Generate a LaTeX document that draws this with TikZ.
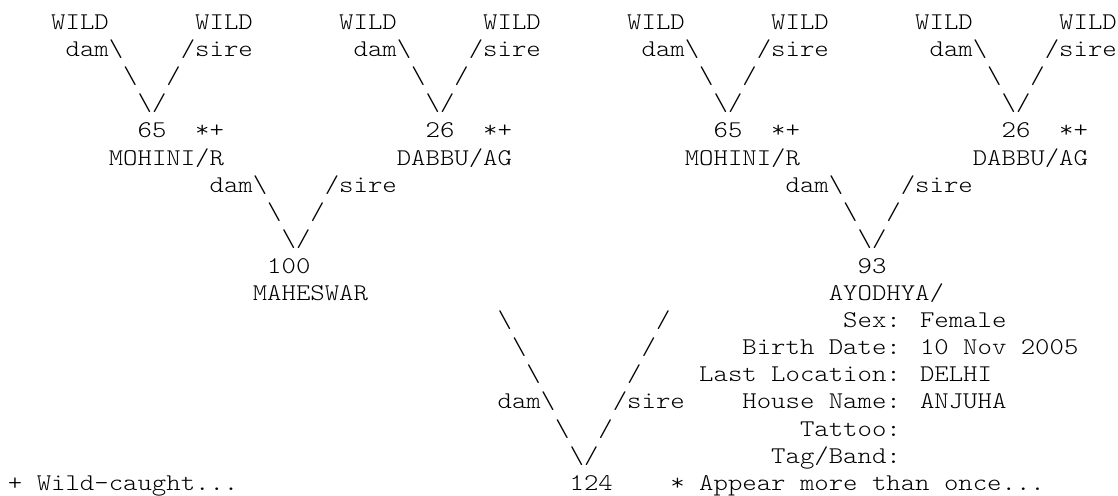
\documentclass[tikz,border=0pt]{standalone}
\usepackage{fontspec}
\newfontfamily\pedmono[FakeStretch=1.142857]{lmmonolt10-regular.otf}
\tikzset{txt/.style={anchor=base west, inner sep=0pt, outer sep=0pt, text=black,
  font=\pedmono\fontsize{24}{27}\selectfont}}
\newcommand\bs{\textbackslash}
% \place{name}{column}{line}{text}
\newcommand\place[4]{\node[txt] (#1) at ({8+14.4*(#2)},{-(29.5+27.1*((#3)-1))}) {#4};}
\begin{document}
\begin{tikzpicture}[x=1pt,y=1pt]
\fill[white] (0,0) rectangle (1118,-495);
\useasboundingbox (0,0) rectangle (1118,-495);
% grandparents' families
\foreach \o/\n/\num/\nm in {0/a/65/{MOHINI/R},20/b/26/{DABBU/AG},40/c/65/{MOHINI/R},60/d/26/{DABBU/AG}}{
  \place{wd\n}{3+\o}{1}{WILD}
  \place{ws\n}{13+\o}{1}{WILD}
  \place{dl\n}{4+\o}{2}{dam\bs}
  \place{sl\n}{12+\o}{2}{/sire}
  \place{bd\n}{8+\o}{3}{\bs}
  \place{fs\n}{11+\o}{3}{/}
  \place{v\n}{9+\o}{4}{\bs/}
  \place{id\n}{9+\o}{5}{\num}
  \place{mk\n}{13+\o}{5}{*+}
  \place{nm\n}{7+\o}{6}{\nm}
}
% parents' level
\foreach \o/\n in {0/p,40/q}{
  \place{dl\n}{14+\o}{7}{dam\bs}
  \place{sl\n}{22+\o}{7}{/sire}
  \place{bd\n}{18+\o}{8}{\bs}
  \place{fs\n}{21+\o}{8}{/}
  \place{v\n}{19+\o}{9}{\bs/}
}
\place{idp}{18}{10}{100}
\place{nmp}{17}{11}{MAHESWAR}
\place{idq}{59}{10}{93}
\place{nmq}{57}{11}{AYODHYA/}
% subject level
\place{b1}{34}{12}{\bs}
\place{f1}{45}{12}{/}
\place{b2}{35}{13}{\bs}
\place{f2}{44}{13}{/}
\place{b3}{36}{14}{\bs}
\place{f3}{43}{14}{/}
\place{dlr}{34}{15}{dam\bs}
\place{slr}{42}{15}{/sire}
\place{b5}{38}{16}{\bs}
\place{f5}{41}{16}{/}
\place{vr}{39}{17}{\bs/}
\place{idr}{39}{18}{124}
% info block
\place{sex}{58}{12}{Sex: Female}
\place{birth}{51}{13}{Birth Date: 10 Nov 2005}
\place{loc}{48}{14}{Last Location: DELHI}
\place{house}{51}{15}{House Name: ANJUHA}
\place{tattoo}{55}{16}{Tattoo:}
\place{tag}{53}{17}{Tag/Band:}
% legend
\place{wild}{0}{18}{+ Wild-caught...}
\place{appear}{46}{18}{* Appear more than once...}
\end{tikzpicture}
\end{document}
